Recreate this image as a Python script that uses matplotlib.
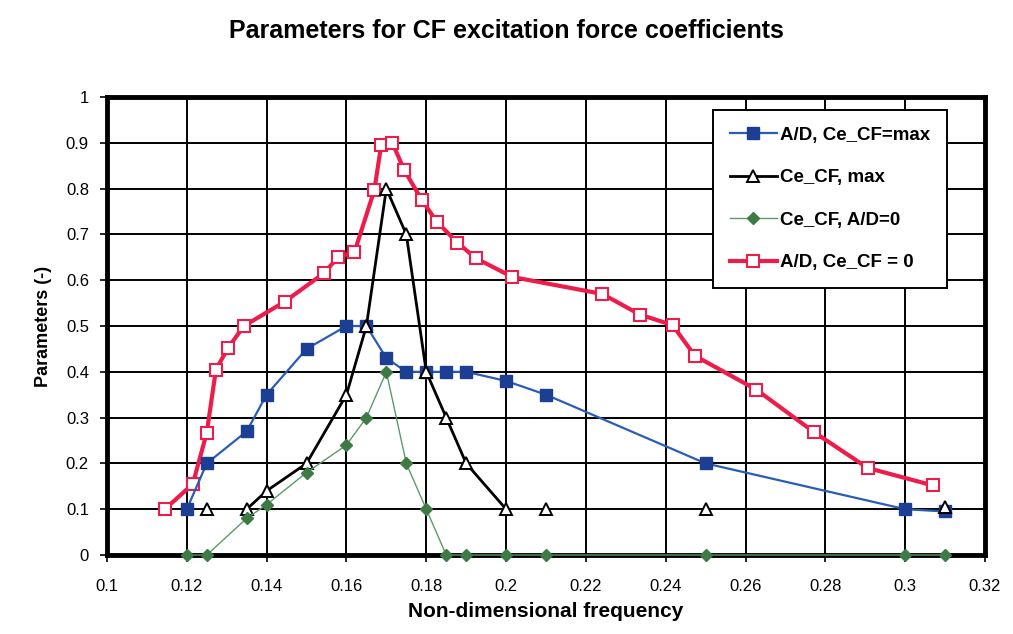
import numpy as np
import matplotlib
matplotlib.use("Agg")
import matplotlib.pyplot as plt
from matplotlib.ticker import FuncFormatter

plt.rcParams['font.family'] = ['Liberation Sans', 'DejaVu Sans']

# Non-dimensional frequency and parameter values for each curve
freq_ad_max = [0.12, 0.125, 0.135, 0.14, 0.15, 0.16, 0.165, 0.17, 0.175, 0.18,
               0.185, 0.19, 0.20, 0.21, 0.25, 0.30, 0.31]
ad_max = [0.10, 0.20, 0.27, 0.35, 0.45, 0.50, 0.50, 0.43, 0.40, 0.40,
          0.40, 0.40, 0.38, 0.35, 0.20, 0.10, 0.095]

# NaN entries separate the isolated points from the connected part
freq_ce_max = [0.125, np.nan, 0.135, 0.14, 0.15, 0.16, 0.165, 0.17, 0.175, 0.18,
               0.185, 0.19, 0.20, np.nan, 0.21, np.nan, 0.25, np.nan, 0.31]
ce_max = [0.10, np.nan, 0.10, 0.14, 0.20, 0.35, 0.50, 0.80, 0.70, 0.40,
          0.30, 0.20, 0.10, np.nan, 0.10, np.nan, 0.10, np.nan, 0.105]

freq_ce_ad0 = [0.12, 0.125, 0.135, 0.14, 0.15, 0.16, 0.165, 0.17, 0.175, 0.18,
               0.185, 0.19, 0.20, 0.21, 0.25, 0.30, 0.31]
ce_ad0 = [0.0, 0.0, 0.08, 0.11, 0.18, 0.24, 0.30, 0.40, 0.20, 0.10,
          0.0, 0.0, 0.0, 0.0, 0.0, 0.0, 0.0]

freq_ad_ce0 = [0.1145, 0.1215, 0.125, 0.1273, 0.1304, 0.1343, 0.1445, 0.1543,
               0.158, 0.162, 0.167, 0.1687, 0.1715, 0.1745, 0.1789, 0.1826,
               0.1878, 0.1924, 0.2016, 0.2241, 0.2335, 0.2417, 0.2473, 0.2627,
               0.2772, 0.2906, 0.3069]
ad_ce0 = [0.10, 0.155, 0.267, 0.405, 0.453, 0.50, 0.553, 0.615,
          0.651, 0.661, 0.797, 0.895, 0.90, 0.84, 0.775, 0.728,
          0.682, 0.648, 0.607, 0.57, 0.525, 0.502, 0.435, 0.361,
          0.268, 0.19, 0.152]

x_ticks = [0.10, 0.12, 0.14, 0.16, 0.18, 0.20, 0.22, 0.24, 0.26, 0.28, 0.30, 0.32]
y_ticks = [0.0, 0.1, 0.2, 0.3, 0.4, 0.5, 0.6, 0.7, 0.8, 0.9, 1.0]

fig = plt.figure(figsize=(10.13, 6.34), dpi=100)
ax = fig.add_axes([0.1056, 0.1246, 0.8668, 0.7224])

ax.plot(freq_ad_max, ad_max, color='#2a5db8', lw=1.6, marker='s', ms=9,
        mfc='#1d3f93', mec='#1d3f93', label='A/D, Ce_CF=max', zorder=4, clip_on=False)
ax.plot(freq_ce_max, ce_max, color='black', lw=2.0, marker='^', ms=8,
        mfc='white', mec='black', mew=1.4, label='Ce_CF, max', zorder=5, clip_on=False)
ax.plot(freq_ce_ad0, ce_ad0, color='#5c9a6c', lw=1.0, marker='D', ms=6,
        mfc='#3d7a45', mec='#3d7a45', label='Ce_CF, A/D=0', zorder=6, clip_on=False)
ax.plot(freq_ad_ce0, ad_ce0, color='#ee1c4a', lw=3.0, marker='s', ms=8,
        mfc='white', mec='#ee1c4a', mew=1.5, label='A/D, Ce_CF = 0', zorder=3, clip_on=False)

ax.set_xlim(0.10, 0.32)
ax.set_ylim(0.0, 1.0)
ax.set_xticks(x_ticks)
ax.set_yticks(y_ticks)
fmt = FuncFormatter(lambda v, p: ('%.2f' % v).rstrip('0').rstrip('.') if v != 0 else '0')
ax.xaxis.set_major_formatter(fmt)
ax.yaxis.set_major_formatter(fmt)
ax.grid(True, color='black', lw=1.4)
ax.set_axisbelow(True)
for s in ax.spines.values():
    s.set_linewidth(3.5)
    s.set_zorder(2.5)
ax.tick_params(axis='both', direction='out', length=5, width=1.2, labelsize=12,
               color='black')
ax.tick_params(axis='x', pad=12)
ax.tick_params(axis='y', pad=8)

ax.set_xlabel('Non-dimensional frequency', fontsize=15, fontweight='bold', labelpad=6)
ax.set_ylabel('Parameters (-)', fontsize=13, fontweight='bold', labelpad=10)
fig.suptitle('Parameters for CF excitation force coefficients', fontsize=18,
             fontweight='bold', y=0.97)

leg = ax.legend(loc='upper left', bbox_to_anchor=(0.69, 0.972), fontsize=13.5,
                frameon=True, fancybox=False, edgecolor='black', framealpha=1,
                labelspacing=1.35, handlelength=2.5, handletextpad=0.2,
                borderpad=0.9, borderaxespad=0)
leg.get_frame().set_linewidth(1.4)
for t in leg.get_texts():
    t.set_fontweight('bold')
leg.set_zorder(10)

fig.savefig('out.png', dpi=100, facecolor='white')
